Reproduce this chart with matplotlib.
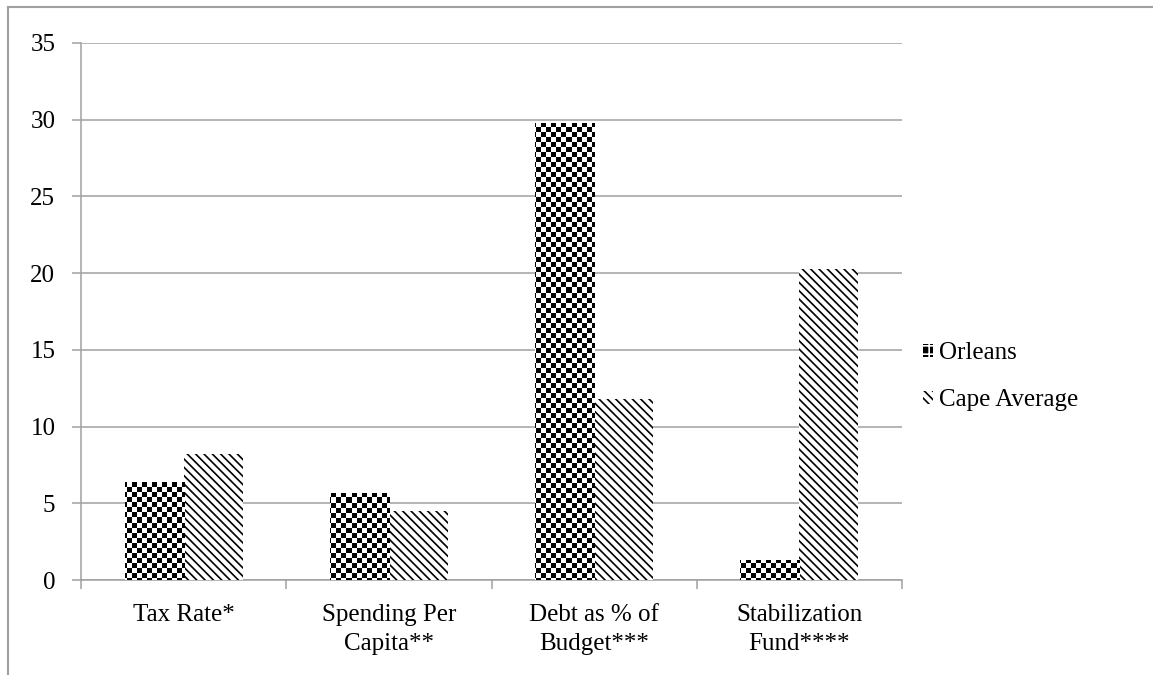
import numpy as np
import matplotlib
matplotlib.use("Agg")
import matplotlib.pyplot as plt
from matplotlib.lines import Line2D
from matplotlib.patches import Patch

# data
categories = ["Tax Rate*", "Spending Per\nCapita**", "Debt as % of\nBudget***", "Stabilization\nFund****"]
orleans = [6.4, 5.7, 29.8, 1.3]
cape_average = [8.2, 4.5, 11.8, 20.3]
yticks = [0, 5, 10, 15, 20, 25, 30, 35]

grey = "#a0a0a0"
fs = 18
stripes = "\\" * 4
plt.rcParams["font.family"] = ["Liberation Serif", "DejaVu Serif"]
plt.rcParams["hatch.linewidth"] = 1.2

fig = plt.figure(figsize=(11.53, 6.75), dpi=100)
ax = fig.add_axes([0.0703, 0.1407, 0.7120, 0.7956])

x = np.arange(len(categories))
w = 0.288

bars_o = ax.bar(x - w / 2, orleans, w, facecolor="white", edgecolor="none", zorder=3)
bars_c = ax.bar(x + w / 2, cape_average, w, facecolor="white", edgecolor="black",
                linewidth=0, hatch=stripes, zorder=3)

# checkerboard fill for the Orleans bars (image clipped to each bar), ~5 px cells
nrow, ncol, cell = 537, 821, 5
r, c = np.indices((nrow, ncol))
checker = ((r // cell + c // cell) % 2).astype(float)
for b in bars_o:
    im = ax.imshow(checker, cmap="gray", extent=(0, 1, 0, 1), transform=ax.transAxes,
                   aspect="auto", interpolation="nearest", zorder=4)
    im.set_clip_path(b)

ax.set_xlim(-0.5, len(categories) - 0.5)
ax.set_ylim(0, 35)
ax.set_yticks(yticks)
ax.yaxis.grid(True, color=grey, linewidth=1.1)
ax.set_axisbelow(True)

ax.set_xticks(np.arange(len(categories) + 1) - 0.5)
ax.set_xticklabels([])
ax.set_xticks(x, minor=True)
ax.set_xticklabels(categories, minor=True, fontsize=fs, linespacing=1.45, va="top")
ax.tick_params(axis="x", which="minor", length=0, pad=17)
ax.tick_params(axis="x", which="major", length=6.5, width=1.1, color=grey, direction="out")
ax.tick_params(axis="y", length=6.5, width=1.1, color=grey, pad=12, labelsize=fs)

for s in ["top", "right"]:
    ax.spines[s].set_visible(False)
for s in ["left", "bottom"]:
    ax.spines[s].set_color(grey)
    ax.spines[s].set_linewidth(1.1)

handles = [Patch(facecolor="black", edgecolor="white", hatch="++", linewidth=0),
           Patch(facecolor="white", edgecolor="black", hatch=stripes, linewidth=0)]
ax.legend(handles, ["Orleans", "Cape Average"], loc="center left",
          bbox_to_anchor=(0.792, 0.4415), bbox_transform=fig.transFigure,
          frameon=False, fontsize=fs, handlelength=0.4, handleheight=0.4,
          handletextpad=0.25, labelspacing=1.0, borderaxespad=0)

# outer chart frame
fig.add_artist(Line2D([0.007, 0.007], [0, 0.989], color=grey, linewidth=1.5,
                      transform=fig.transFigure))
fig.add_artist(Line2D([0.007, 1], [0.989, 0.989], color=grey, linewidth=1.5,
                      transform=fig.transFigure))

fig.savefig("out.png", dpi=100)
